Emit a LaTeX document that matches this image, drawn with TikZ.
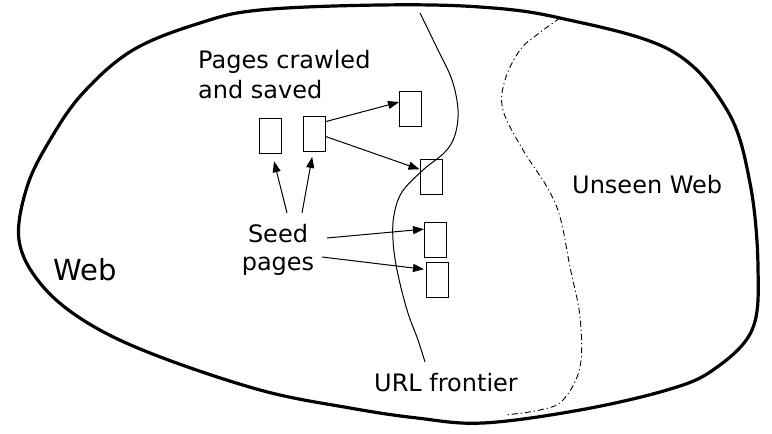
\documentclass[tikz,border=0pt]{standalone}
\usepackage{fontspec}
\setmainfont{DejaVu Sans}
\usetikzlibrary{arrows.meta,calc}
\begin{document}
\begin{tikzpicture}[x=1pt,y=-1pt,
  page/.style={draw, line width=1pt, minimum width=22pt, minimum height=35pt, inner sep=0pt},
  link/.style={line width=1pt, -{Triangle[length=11pt,width=8pt]}},
  lbl/.style={font=\fontsize{24}{30}\selectfont, inner sep=0pt}]
\useasboundingbox (0,0) rectangle (772,434);

% Web blob
\draw[line width=3.2pt] plot[smooth cycle, tension=0.6] coordinates {
  (260,10) (380,5) (480,7) (560,18) (670,50) (727,110) (750,183) (758,267)
  (752,330) (713,370) (667,390) (580,410) (483,423) (417,418) (350,408)
  (260,390) (150,353) (83,320) (40,283) (19,240) (27,187) (50,140) (83,93)
  (133,50) (200,23)};

% URL frontier
\draw[line width=1pt] plot[smooth, tension=0.6] coordinates {
  (420,13) (438,50) (452,80) (458,110) (455,135) (445,152) (423,170)
  (402,192) (394,215) (393,240) (397,270) (407,310) (418,340) (425,362)};

% Unseen boundary
\draw[line width=0.9pt, dash pattern=on 6pt off 3pt on 1.2pt off 3pt] plot[smooth, tension=0.6] coordinates {
  (560,18) (538,34) (520,50) (505,80) (503,110) (523,150) (547,187) (560,217)
  (570,267) (580,317) (580,367) (563,400) (540,410) (505,415)};

% pages
\node[page] (A) at (270.5,135.5) {};
\node[page] (B) at (314,134) {};
\node[page] (C) at (410.5,109) {};
\node[page] (D) at (431,176.5) {};
\node[page] (E) at (435.5,239.5) {};
\node[page] (F) at (437.5,279.5) {};

% labels
\node[lbl, align=left, anchor=north west] (crawled) at (198,50) {Pages crawled\\and saved};
\node[lbl, align=center, anchor=north, font=\fontsize{24}{28}\selectfont] (seed) at (278,224) {Seed\\pages};
\node[lbl, anchor=base west, font=\fontsize{29}{34}\selectfont] (web) at (53,280) {Web};
\node[lbl, anchor=base west] (unseen) at (572,193) {Unseen Web};
\node[lbl, anchor=base west] (frontier) at (374,391) {URL frontier};

% seed arrow tails
\coordinate (s1) at (287,213);
\coordinate (s2) at (302,213);
\coordinate (s3) at (327,238);
\coordinate (s4) at (322,257);

\draw[link, shorten >=8pt] (s1) -- (A.-85);
\draw[link, shorten >=5pt] (s2) -- (B.-93);
\draw[link] (B.47) -- (C.149);
\draw[link] (B.-12) -- (D.148);
\draw[link] (s3) -- (E.138);
\draw[link, shorten >=2pt] (s4) -- (F.139);
\end{tikzpicture}
\end{document}
